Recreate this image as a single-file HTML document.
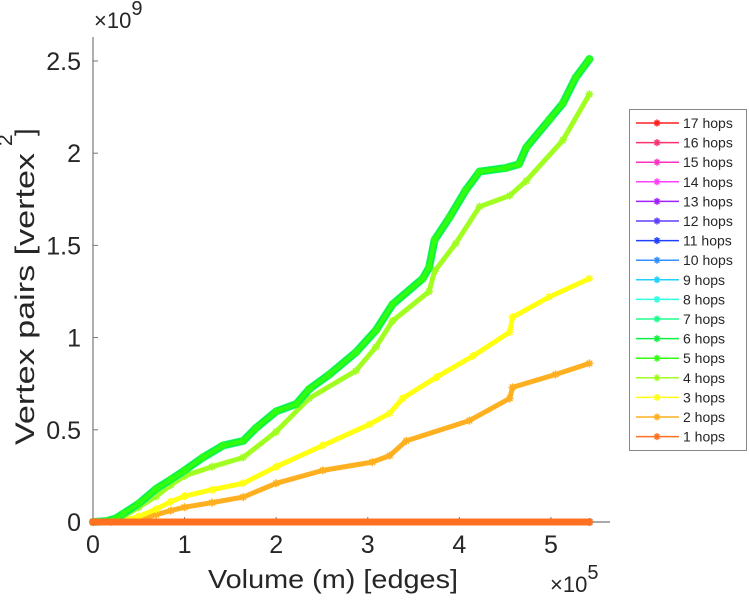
<!DOCTYPE html>
<html><head><meta charset="utf-8"><style>
html,body{margin:0;padding:0;background:#fff;}
svg{display:block;font-family:"Liberation Sans",Arial,sans-serif;}
</style></head><body>
<svg id="chart" width="749" height="600" viewBox="0 0 749 600"></svg>
<script>
// ---- data (x in 1e5 edges, y in 1e9 vertex pairs) ----
const xTicks = [0, 1, 2, 3, 4, 5];
const yTicks = [0, 0.5, 1, 1.5, 2, 2.5];
const yTickLabels = ["0", "0.5", "1", "1.5", "2", "2.5"];
const legendLabels = ["17 hops","16 hops","15 hops","14 hops","13 hops","12 hops","11 hops","10 hops","9 hops","8 hops","7 hops","6 hops","5 hops","4 hops","3 hops","2 hops","1 hops"];
const seriesColors = ["#ff2020","#ff3070","#ff30c0","#ff40ff","#a020ff","#6040ff","#2040ff","#3090ff","#20d0ff","#30ffe0","#20ff90","#10f040","#30ff10","#a0ff20","#ffff10","#ffb020","#ff7020"];
const topX = [0,0.15,0.25,0.33,0.5,0.69,0.85,1,1.2,1.42,1.64,1.78,2,2.22,2.36,2.58,2.87,3.09,3.27,3.6,3.67,3.73,3.89,4.07,4.22,4.51,4.65,4.73,4.98,5.13,5.27,5.42];
const topY = [0,0.005,0.02,0.045,0.1,0.18,0.23,0.28,0.35,0.415,0.44,0.51,0.6,0.64,0.72,0.8,0.92,1.04,1.18,1.32,1.38,1.53,1.65,1.8,1.9,1.92,1.94,2.03,2.18,2.27,2.41,2.51];
const hop4X = [0,0.15,0.25,0.33,0.5,0.69,0.85,1,1.3,1.64,2,2.36,2.87,3.09,3.27,3.67,3.73,3.96,4.22,4.55,4.73,5.13,5.42];
const hop4Y = [0,0.003,0.012,0.03,0.08,0.14,0.2,0.25,0.3,0.35,0.49,0.67,0.82,0.95,1.09,1.25,1.36,1.51,1.71,1.77,1.85,2.07,2.32];
const hop3X = [0,0.2,0.33,0.5,0.69,0.85,1,1.3,1.64,2,2.51,3.02,3.24,3.38,3.75,4.15,4.55,4.58,4.98,5.42];
const hop3Y = [0,0.002,0.008,0.03,0.07,0.11,0.14,0.175,0.21,0.30,0.415,0.53,0.59,0.67,0.785,0.90,1.03,1.11,1.22,1.32];
const hop2X = [0,0.2,0.33,0.5,0.69,0.85,1,1.3,1.64,2,2.51,3.05,3.24,3.42,4.11,4.55,4.58,5.05,5.42];
const hop2Y = [0,0.001,0.004,0.015,0.04,0.062,0.08,0.105,0.135,0.21,0.28,0.325,0.36,0.44,0.55,0.67,0.73,0.80,0.86];
const flatX = [0,5.42];
const flatY = [0,0];

const L=93, R=610, B=522, T=37, XMAX=5.645, YMAX=2.63;
const sx = v => L + v/XMAX*(R-L);
const sy = v => B - v/YMAX*(B-T);
const svg = document.getElementById('chart');
const NS = 'http://www.w3.org/2000/svg';
function mk(tag, attrs, parent){const e=document.createElementNS(NS,tag);for(const k in attrs)e.setAttribute(k,attrs[k]);(parent||svg).appendChild(e);return e;}

// axes
const axes = mk('g',{});


mk('line',{x1:L,y1:B,x2:R,y2:B,stroke:'#777','stroke-width':1.2},axes);
mk('line',{x1:L,y1:B,x2:L,y2:T,stroke:'#777','stroke-width':1.2},axes);
xTicks.forEach(t=>{
  mk('line',{x1:sx(t),y1:B,x2:sx(t),y2:B-5,stroke:'#777'},axes);
  const tx=mk('text',{x:sx(t),y:B+31,'text-anchor':'middle','font-size':25,fill:'#262626'},axes);
  tx.textContent=t;
  
  
});
yTicks.forEach((t,i)=>{
  mk('line',{x1:L,y1:sy(t),x2:L+5,y2:sy(t),stroke:'#777'},axes);
  const tx=mk('text',{x:L-12,y:sy(t)+9,'text-anchor':'end','font-size':25,fill:'#262626'},axes);
  tx.textContent=yTickLabels[i];
  
  
});

// series
function marker(g,x,y,c,s){
  mk('path',{d:`M${x-s} ${y}H${x+s}M${x} ${y-s}V${y+s}M${x-s*.7} ${y-s*.7}L${x+s*.7} ${y+s*.7}M${x-s*.7} ${y+s*.7}L${x+s*.7} ${y-s*.7}`,stroke:c,'stroke-width':1.5,fill:'none'},g);
}
function drawSeries(xs,ys,color,w,name){
  const g=mk('g',{});
  
  
  const d=xs.map((x,i)=>(i?'L':'M')+sx(x).toFixed(1)+' '+sy(ys[i]).toFixed(1)).join('');
  mk('path',{d:d,stroke:color,'stroke-width':w,fill:'none','stroke-linejoin':'round','stroke-linecap':'round'},g);
  xs.forEach((x,i)=>marker(g,sx(x),sy(ys[i]),color,4));
}
for(let i=0;i<10;i++) drawSeries(flatX,flatY,seriesColors[i],6,'series-'+(17-i)+'-hops');
drawSeries(hop2X,hop2Y,seriesColors[15],5,'series-2-hops');
drawSeries(hop3X,hop3Y,seriesColors[14],5,'series-3-hops');
drawSeries(hop4X,hop4Y,seriesColors[13],5,'series-4-hops');
drawSeries(topX,topY,seriesColors[10],8,'series-7-hops');
drawSeries(topX,topY,seriesColors[11],7,'series-6-hops');
drawSeries(topX,topY,seriesColors[12],4,'series-5-hops');
drawSeries(flatX,flatY,seriesColors[16],7,'series-1-hops');

// labels
const xl=mk('text',{x:208,y:588,'font-size':26,fill:'#262626',textLength:250,lengthAdjust:'spacingAndGlyphs'});
xl.textContent='Volume (m) [edges]';


const xe=mk('text',{x:550,y:592,'font-size':22,fill:'#262626'});
xe.innerHTML='×10<tspan dy="-13" font-size="20">5</tspan>';


const ye=mk('text',{x:94,y:28,'font-size':22,fill:'#262626'});
ye.innerHTML='×10<tspan dy="-13" font-size="20">9</tspan>';


const yl=mk('text',{x:0,y:0,'font-size':27,fill:'#262626',transform:'translate(34,445) rotate(-90)',textLength:292,lengthAdjust:'spacingAndGlyphs'});
yl.textContent='Vertex pairs [vertex';


const ys2=mk('text',{x:0,y:0,'font-size':21,fill:'#262626',transform:'translate(12,146) rotate(-90)'});
ys2.textContent='2';


const yb=mk('text',{x:0,y:0,'font-size':27,fill:'#262626',transform:'translate(34,136) rotate(-90)'});
yb.textContent=']';



// legend
const lg=mk('g',{});


mk('rect',{x:629.5,y:109.5,width:117,height:341,fill:'#fff',stroke:'#888','stroke-width':1},lg);
legendLabels.forEach((lab,i)=>{
  const y=123+i*19.6;
  const e=mk('g',{},lg);
  
  
  mk('line',{x1:636,y1:y,x2:679,y2:y,stroke:seriesColors[i],'stroke-width':1.5},e);
  marker(e,657,y,seriesColors[i],3.5);
  const t=mk('text',{x:683,y:y+5,'font-size':14,fill:'#262626'},e);
  t.textContent=lab;
});
</script>
</body></html>
